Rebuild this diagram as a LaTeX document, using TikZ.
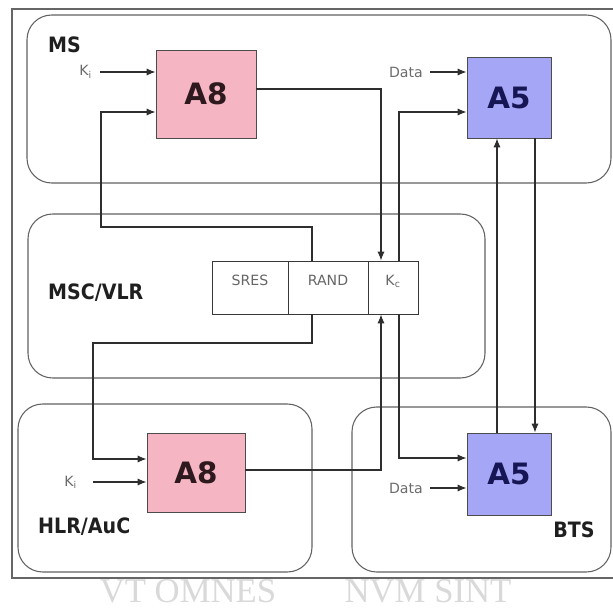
\documentclass[tikz,border=0pt]{standalone}
\usepackage{fontspec}
\setmainfont{DejaVu Sans}
\newfontfamily\wmfont{Liberation Serif}
\newfontfamily\sectfont{DejaVu Sans Condensed}[BoldFont={* Bold}]
\usetikzlibrary{arrows.meta}
\definecolor{pinkA}{RGB}{246,181,194}
\definecolor{blueA}{RGB}{166,166,247}
\definecolor{navyA}{RGB}{22,22,85}
\definecolor{darkA}{RGB}{45,25,30}
\begin{document}
\begin{tikzpicture}[x=0.85pt,y=-0.85pt,
  zone/.style={draw=black!62, line width=0.9pt, rounded corners=21pt},
  ln/.style={draw=black!82, line width=0.95pt},
  arr/.style={ln, -{Latex[length=7.5pt,width=6pt]}},
  algpink/.style={draw=black!70, line width=0.8pt, fill=pinkA, text=darkA,
     font=\bfseries\fontsize{25}{25}\selectfont, inner sep=0pt},
  algblue/.style={draw=black!70, line width=0.8pt, fill=blueA, text=navyA,
     font=\bfseries\fontsize{25}{25}\selectfont, inner sep=0pt},
  cell/.style={draw=black!78, line width=0.8pt, minimum height=45.05pt, inner sep=0pt,
     text height=9pt, text depth=12.8pt, text=black!60, font=\fontsize{12}{12}\selectfont},
  sect/.style={text=black!88, font=\sectfont\bfseries\fontsize{18}{18}\selectfont, inner sep=0pt},
  small/.style={text=black!58, font=\fontsize{12}{12}\selectfont, inner ysep=0pt},
  wm/.style={text=black!15, font=\wmfont\fontsize{29.5}{29.5}\selectfont, inner sep=0pt}
]
\useasboundingbox (0,0) rectangle (613,611);
\clip (0,0) rectangle (613,611);
\fill[white] (0,0) rectangle (613,611);

% outer frame
\draw[draw=black!60, line width=1.1pt] (12,9) rectangle (640,578);

% zones
\draw[zone] (27,15) rectangle (611,183);
\draw[zone] (28,214) rectangle (485,378);
\draw[zone] (18,404) rectangle (312,572);
\draw[zone] (352,407) rectangle (611,572);

% section labels
\node[sect, anchor=west] (lms) at (48,45) {MS};
\node[sect, anchor=west] (lmsc) at (48,293) {MSC/VLR};
\node[sect, anchor=west] (lhlr) at (38,527) {HLR/AuC};
\node[sect] (lbts) at (574,530) {BTS};

% algorithm boxes
\node[algpink, minimum width=85pt, minimum height=74.8pt] (a8ms) at (206,94) {A8};
\node[algblue, minimum width=71.4pt, minimum height=68.85pt] (a5ms) at (509,97.5) {A5};
\node[algpink, minimum width=83.3pt, minimum height=67.15pt] (a8hlr) at (196,472.5) {A8};
\node[algblue, minimum width=71.4pt, minimum height=69.7pt] (a5bts) at (509,474) {A5};

% SRES / RAND / Kc table
\node[cell, minimum width=64.6pt] (sres) at (250,287.5) {SRES};
\node[cell, minimum width=68pt] (rand) at (328,287.5) {RAND};
\node[cell, minimum width=42.5pt] (kc) at (393,287.5) {K\textsubscript{c}};

% input labels
\node[small, anchor=east, inner xsep=6.8pt] (kims) at (100,72) {K\textsubscript{i}};
\node[small, anchor=east, inner xsep=13.6pt] (kihlr) at (93,482) {K\textsubscript{i}};
\node[small, anchor=east, inner xsep=6pt] (dms) at (430,72) {Data};
\node[small, anchor=east, inner xsep=6pt] (dbts) at (430,488) {Data};

% inputs
\draw[arr] (kims.east) -- (a8ms.west |- kims.east);
\draw[arr] (kihlr.east) -- (a8hlr.west |- kihlr.east);
\draw[arr] (dms.east) -- (a5ms.west |- dms.east);
\draw[arr] (dbts.east) -- (a5bts.west |- dbts.east);

% RAND to both A8
\draw[arr] (rand.north -| 312,0) -- (312,227) -- (101,227) |- (a8ms.west |- 0,112);
\draw[arr] (rand.south -| 312,0) -- (312,343) -- (93,343) |- (a8hlr.west |- 0,459);

% A8 outputs to Kc
\draw[arr] (a8ms.east |- 0,89) -| (kc.north -| 381,0);
\draw[arr] (a8hlr.east |- 0,470) -| (kc.south -| 381,0);

% Kc to both A5
\draw[arr] (kc.north -| 399,0) |- (a5ms.west |- 0,112);
\draw[arr] (kc.south -| 399,0) |- (a5bts.west |- 0,458);

% A5 <-> A5
\draw[arr] (a5bts.north -| 497,0) -- (a5ms.south -| 497,0);
\draw[arr] (a5ms.south -| 535,0) -- (a5bts.north -| 535,0);

% watermark
\node[wm, anchor=base] (wm1) at (188,602) {VT OMNES};
\node[wm, anchor=base] (wm2) at (428,602) {NVM SINT};
\end{tikzpicture}
\end{document}
